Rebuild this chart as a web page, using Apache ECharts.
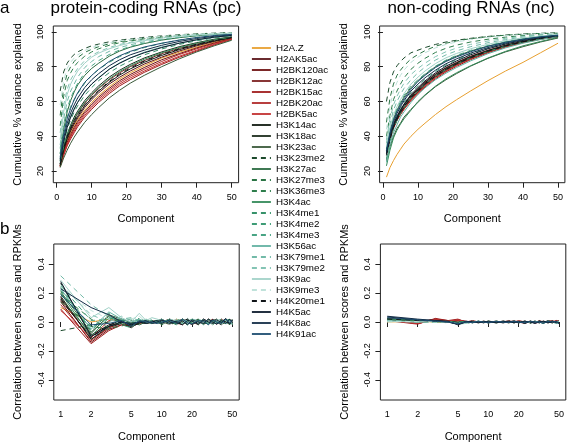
<!DOCTYPE html>
<html><head><meta charset="utf-8">
<script src="https://cdn.jsdelivr.net/npm/echarts@6/dist/echarts.min.js"></script>
<style>html,body{margin:0;padding:0;background:#fff}#c{width:567px;height:443px}</style>
</head><body><div id="c"></div>
<script>
// ---------------- data ----------------
const marks = ['H2A.Z','H2AK5ac','H2BK120ac','H2BK12ac','H2BK15ac','H2BK20ac','H2BK5ac','H3K14ac','H3K18ac','H3K23ac','H3K23me2','H3K27ac','H3K27me3','H3K36me3','H3K4ac','H3K4me1','H3K4me2','H3K4me3','H3K56ac','H3K79me1','H3K79me2','H3K9ac','H3K9me3','H4K20me1','H4K5ac','H4K8ac','H4K91ac'];

const topComponents = [1,2,3,4,5,6,8,10,12,15,18,21,25,30,35,40,45,50];
const corrComponents = [1,2,3,4,5,6,7,8,9,10,12,14,16,18,20,23,26,29,32,35,39,43,47,50];

const compTicks = [0,10,20,30,40,50];
const cumTicks = [20,40,60,80,100];
const logTicks = [1,2,5,10,20,50];
const corrTicks = [-0.4,-0.2,0,0.2,0.4];

// cumulative % variance explained, protein-coding
const pcCumulative = [
 [23,31,37.5,42,46,49.5,55,59.5,63.5,68.5,73,76.5,80.5,85,88.3,91.3,94,96.3],
 [23.5,32,38,43,47,50.5,56.5,61,65,70,74,77.5,81.5,85.5,89,92,94.5,96.6],
 [23,30.5,36.5,41,45,48.5,54,58.5,62.5,67.5,72,75.5,79.5,84,87.5,90.8,93.6,96.2],
 [24,33,40,45,49.5,53,59,63.5,67.5,72.5,76.5,80,83.5,87.5,90.5,93,95.3,97],
 [22.5,29,34.5,38.5,42,45.5,51,55.5,59.5,64.5,69,72.5,76.7,81.3,85.4,89,92.5,95.7],
 [23,30,35.5,40,44,47.5,53,57.5,61.5,66.5,71,74.5,78.5,83,87,90.3,93.3,96],
 [22.5,29.5,35,39.5,43,46.5,52,56.5,60.5,65.5,70,73.5,77.5,82,86,89.5,92.8,95.8],
 [23,32,39,44,48,51.5,57.5,62,66,71,75.2,78.7,82.5,86.5,89.8,92.5,94.8,96.8],
 [24,34,41,46.5,51,54.5,60.5,65,69,74,78,81.3,85,88.5,91.5,93.8,95.8,97.2],
 [22,27.5,32,36,39.5,42.5,48,52.5,56.5,62,66.5,70.5,75,80,84.5,88.5,92,95.2],
 [66,77,82,85,87,88.5,90.5,92,93,94.3,95.3,96,96.9,97.7,98.4,98.9,99.3,99.6],
 [30,44,54,60.5,65.5,69.5,75,79,82,86,89,91.2,93.3,95.3,96.7,97.8,98.6,99.1],
 [52,68,76,80,83,85.2,88.2,90,91.5,93.2,94.4,95.3,96.3,97.3,98.1,98.7,99.1,99.4],
 [46,63,72,76.5,80,82.5,86,88.5,90.3,92.3,93.8,94.8,96,97,97.9,98.5,99,99.3],
 [25,34,41,46,50,53.5,59.5,64,68,73,77.2,80.5,84.3,88,91,93.5,95.5,97],
 [26,36,44,49.5,54,57.5,63.5,68,72,76.5,80.3,83.3,86.8,90.2,92.8,94.9,96.5,97.8],
 [30,42,51,57,61,64.5,70.5,75,78.5,82.5,85.8,88.3,91,93.4,95.3,96.8,97.8,98.5],
 [33,47,56,62,66.5,70.5,76.5,80.5,83.5,87,89.6,91.6,93.6,95.5,96.8,97.8,98.5,98.9],
 [27,38,46,51.5,56,59.5,65.5,70,73.8,78.5,82.2,85,88.3,91.3,93.5,95.3,96.8,97.9],
 [35,50,60,66,70,74,79.5,83,85.8,88.8,91,92.6,94.3,95.9,97.1,98,98.6,99],
 [42,58,67,72.5,76,79,83.5,86.5,88.6,91,92.8,94,95.4,96.6,97.6,98.3,98.9,99.2],
 [38,54,64,70,74,77.5,82,85.5,87.8,90.3,92.2,93.6,95,96.4,97.5,98.2,98.8,99.1],
 [58,72,79,82.5,85,86.8,89.3,91,92.3,93.8,94.9,95.7,96.6,97.5,98.2,98.8,99.2,99.5],
 [24,33,40,45,49,52.5,58,62.5,66.5,71.5,75.8,79.2,83.2,87,90.2,92.9,95,96.8],
 [26,37,45,51,55.5,59.5,65.5,70,73.5,78.5,82,85,88,91,93.5,95.5,97,98],
 [27,39,47.5,53.5,58,62,68,72.5,76,80.5,84,86.8,89.5,92.3,94.5,96.2,97.5,98.3],
 [28,41,50,56,61,65,71,75,78.5,83,86.3,88.8,91.3,93.5,95.3,96.8,97.9,98.6]
];

// cumulative % variance explained, non-coding
const ncCumulative = [
 [16.5,22,26,29.5,32.5,35.5,40,44,47.5,52.5,57,61,66,72,77.5,82.5,88,93.5],
 [31,40,46,50.5,54,57,62.3,66.5,70.2,74.8,78.6,81.7,85.3,89,92,94.3,96.2,97.4],
 [30,39,45,49.5,53,56,61.3,65.5,69.3,74,77.8,81,84.6,88.5,91.6,94,95.9,97.2],
 [32,41,47,51.5,55,58,63.5,67.5,71.2,75.8,79.5,82.5,86,89.5,92.4,94.6,96.4,97.5],
 [30,38.5,44.5,49,52.5,55.5,60.5,64.5,68.3,73,77,80.2,84,88,91.3,93.8,95.8,97.1],
 [31,40,46,50.5,53.5,56.5,62,66,69.8,74.5,78.3,81.4,85,88.8,91.8,94.1,96,97.3],
 [30,39,45,49.5,52.5,55.5,61,65,68.8,73.6,77.5,80.8,84.5,88.4,91.5,93.9,95.9,97.2],
 [31,40.5,46.5,51,55,58,63.3,67,70.8,75.5,79.2,82.2,85.8,89.3,92.2,94.5,96.3,97.5],
 [30,39.5,45.5,50,53.5,56.5,62,66,69.8,74.5,78.3,81.5,85,88.8,91.9,94.2,96.1,97.4],
 [26,34,40,44.5,47.5,51,55.5,59.5,63.5,68.5,72.5,76,80.3,84.8,88.5,91.5,94.2,96.5],
 [60,71,77,80.5,83,85,88,89.5,91,92.8,94.2,95.2,96.3,97.4,98.2,98.8,99.2,99.5],
 [32,43,50,55,59,62.5,68,72,75.5,80,83.4,86.1,89,91.9,94.2,96,97.3,98.3],
 [48,62,70,75,78,80.5,84.5,87,89.2,91.8,93.5,94.8,96.1,97.3,98.1,98.7,99.1,99.3],
 [40,52,61,66,70,73.5,78.5,82,84.8,88.2,90.6,92.4,94.2,95.8,97,97.9,98.6,99],
 [23,32,39,43.5,47,50,55,60,63.8,68.8,73,76.5,80.5,85,88.8,92,94.5,96.8],
 [27,37,44,49,53,56.5,62,66,69.8,74.5,78.3,81.5,85,88.8,91.8,94.2,96.2,97.6],
 [30,40,47,52,56,59.5,65,69,72.7,77.3,81,84,87.3,90.6,93.2,95.4,96.9,98],
 [33,44,51,56,60,63.5,68.8,72.5,76,80.3,83.8,86.5,89.4,92.2,94.4,96.1,97.4,98.4],
 [25,35,42,46.5,51,54,59.5,64,67.8,72.5,76.3,79.5,83.3,87.5,90.8,93.5,95.6,97.4],
 [36,47,55,60,64,67.5,72.5,76.5,79.8,83.8,86.8,89.1,91.5,93.8,95.6,97,98,98.6],
 [38,50,58,63,67,70.5,75.5,79,82,85.8,88.6,90.7,92.8,94.8,96.3,97.5,98.3,98.8],
 [34,45,52,57,61,64.5,70,74,77.5,81.8,85.1,87.6,90.3,92.9,95,96.6,97.7,98.5],
 [44,57,66,71,75,78,82.5,85.5,88,90.8,92.8,94.2,95.6,96.9,97.8,98.5,99,99.2],
 [29,38,45,49.5,54,57,62.5,66.5,70.2,74.8,78.5,81.6,85.2,89,92,94.4,96.3,97.6],
 [30,40,46,51,55,58.5,64,68,71.8,76.5,80.3,83.3,86.8,90.3,93,95.1,96.7,97.8],
 [31,41,48,53,57,60.5,66,70,73.6,78,81.7,84.5,87.8,91,93.6,95.5,97,98],
 [32,42,49,54,58,61.5,67,71.5,75,79.5,83,85.6,88.6,91.7,94,95.8,97.2,98.1]
];

// correlation between scores and RPKMs, protein-coding
const pcCorrelation = [
 [0.10,0.00,0.02,0.00,-0.02,0.01,0.00,0.01,-0.01, 0.01,-0.01,0.02,0.00,-0.015,0.01,0.00,0.015,-0.01,0.005,0.01,-0.01,0.02,0.00,0.01],
 [0.17,-0.12,-0.04,-0.01,-0.03,0.00,0.01,-0.01,0.00, -0.01,0.015,-0.005,0.01,0.00,-0.02,0.01,-0.005,0.015,0.00,-0.01,0.02,-0.005,0.01,-0.01],
 [0.14,-0.14,-0.05,-0.02,-0.02,0.01,-0.01,0.00,0.01, 0.00,0.02,-0.01,-0.015,0.01,0.005,-0.01,0.02,0.00,-0.015,0.01,0.00,0.015,-0.01,0.005],
 [0.15,-0.10,-0.03,0.00,-0.01,0.00,0.01,0.00,-0.01, 0.015,-0.005,0.00,0.02,-0.01,0.00,0.015,-0.015,0.005,0.01,-0.005,0.015,-0.01,0.02,0.00],
 [0.09,-0.15,-0.06,-0.02,-0.03,-0.01,0.00,0.01,0.00, -0.005,0.00,0.015,-0.01,0.02,-0.005,-0.015,0.01,0.00,0.02,-0.01,0.005,0.01,-0.015,0.01],
 [0.12,-0.13,-0.04,0.00,-0.02,0.00,-0.01,0.01,0.00, 0.005,-0.015,0.01,0.005,-0.005,0.015,0.00,-0.01,0.02,-0.005,0.015,-0.01,0.00,0.01,-0.005],
 [0.08,-0.11,0.01,0.02,0.00,-0.01,0.00,-0.01,0.01, -0.01,0.01,0.00,-0.02,0.015,0.00,0.01,-0.01,0.005,0.015,-0.015,0.01,0.005,-0.005,0.02],
 [0.27,-0.09,-0.02,0.01,-0.02,0.00,-0.01,0.00,0.01, 0.02,-0.01,0.005,0.01,-0.015,0.02,-0.005,0.00,-0.01,0.015,0.00,-0.02,0.01,0.005,-0.01],
 [0.18,-0.12,-0.03,-0.01,-0.04,0.00,0.00,0.01,-0.01, 0.00,0.01,-0.015,0.02,0.005,-0.01,0.01,0.00,-0.005,0.01,0.02,-0.01,-0.005,0.015,0.00],
 [0.16,-0.08,0.05,0.02,-0.01,0.00,0.01,-0.01,0.00, -0.015,0.005,0.01,-0.005,0.00,0.01,-0.02,0.015,0.005,-0.01,0.00,0.01,0.015,-0.01,0.005],
 [-0.06,-0.02,0.00,0.02,-0.02,0.00,0.01,-0.01,0.00, 0.01,-0.02,0.00,0.015,-0.01,0.005,0.02,-0.015,0.00,0.01,-0.01,0.005,-0.02,0.01,0.00],
 [0.21,-0.07,0.04,0.01,0.00,-0.02,0.00,0.01,-0.01, 0.005,0.015,-0.01,0.00,0.02,-0.015,0.005,0.01,-0.01,0.00,0.015,-0.005,0.01,-0.02,0.01],
 [0.14,-0.03,-0.05,0.02,-0.02,0.02,-0.01,0.00,0.01, -0.02,0.00,0.01,0.015,-0.01,0.005,0.00,-0.015,0.02,0.005,-0.01,0.015,0.00,0.01,-0.015],
 [0.19,0.02,-0.04,-0.03,0.01,0.00,0.02,-0.01,0.00, 0.01,0.005,-0.02,0.01,0.00,0.015,-0.01,0.005,0.01,-0.02,0.005,0.00,0.02,-0.005,0.01],
 [0.20,-0.10,0.03,0.00,-0.01,0.01,0.00,-0.01,0.01, -0.005,0.02,0.00,-0.01,0.01,-0.005,0.015,0.00,-0.015,0.01,0.005,-0.01,0.01,0.02,-0.01],
 [0.22,-0.06,0.06,-0.01,-0.03,0.03,0.00,0.01,-0.01, 0.02,-0.005,0.01,-0.015,0.005,0.02,-0.01,0.01,0.00,-0.01,0.02,0.005,-0.015,0.00,0.015],
 [0.24,-0.04,0.03,0.01,0.02,-0.01,0.01,0.00,0.01, 0.00,-0.01,0.02,0.005,-0.02,0.01,0.00,0.015,-0.01,0.005,0.00,0.02,-0.01,0.005,0.01],
 [0.25,0.01,0.02,-0.02,-0.04,0.01,-0.01,0.02,0.00, 0.015,0.00,-0.01,0.02,0.00,-0.015,0.01,-0.005,0.02,0.00,-0.02,0.01,0.005,-0.01,0.02],
 [0.23,-0.05,0.07,0.02,0.00,0.02,0.00,-0.01,0.01, -0.01,0.02,0.005,-0.01,0.015,0.00,-0.005,0.02,-0.015,0.01,0.00,-0.005,0.015,0.01,-0.02],
 [0.32,0.12,0.04,0.02,0.03,0.01,-0.01,0.01,0.00, 0.02,-0.015,0.01,0.00,-0.005,0.02,0.01,-0.02,0.005,0.015,-0.01,0.00,0.02,-0.01,0.005],
 [0.26,0.05,0.00,0.04,0.01,0.00,0.02,0.00,-0.01, 0.005,0.01,-0.02,0.015,0.00,-0.01,0.02,0.005,-0.005,-0.015,0.01,0.02,-0.01,0.00,0.015],
 [0.29,0.03,0.10,0.03,0.00,0.06,0.01,0.03,0.02, 0.01,-0.005,0.02,-0.01,0.025,0.00,-0.01,0.015,0.005,-0.01,0.02,-0.015,0.01,0.00,0.02],
 [0.24,0.08,0.02,-0.01,0.02,0.04,0.00,0.01,-0.01, -0.015,0.02,0.00,0.01,-0.01,0.02,-0.005,0.00,0.015,-0.02,0.01,0.005,-0.005,0.02,-0.01],
 [0.16,-0.11,-0.02,0.00,-0.03,-0.01,0.00,0.01,-0.01, 0.01,0.00,-0.015,0.005,0.02,-0.01,0.00,0.01,-0.005,0.015,-0.015,0.01,0.00,-0.01,0.015],
 [0.28,-0.10,-0.03,0.00,-0.02,0.00,-0.01,0.00,0.01, -0.01,0.015,0.00,-0.02,0.01,0.005,-0.015,0.02,0.00,-0.01,0.015,-0.005,0.025,-0.015,0.01],
 [0.23,0.10,0.05,0.00,-0.01,0.00,0.01,-0.01,0.00, 0.015,-0.01,0.005,0.01,-0.02,0.015,0.00,-0.01,0.02,0.00,-0.015,0.01,-0.01,0.02,-0.005],
 [0.19,-0.02,-0.01,0.01,-0.03,0.01,0.00,0.00,-0.01, 0.00,0.01,-0.01,0.02,-0.005,-0.015,0.01,0.005,-0.02,0.015,0.00,-0.01,0.02,-0.005,0.01]
];

// correlation between scores and RPKMs, non-coding
const ncCorrelation = [
 [0.00,0.005,0.00,0.00,-0.005,0.00,0.00,0.00,0.00, 0.00,0.005,0.00,-0.005,0.00,0.005,0.00,-0.005,0.00,0.005,0.00,0.00,-0.005,0.005,0.00],
 [0.02,0.00,0.02,0.005,0.01,0.00,0.005,0.00,0.00, -0.005,0.00,0.005,0.00,0.01,-0.005,0.00,0.005,-0.01,0.00,0.005,0.00,-0.005,0.01,0.005],
 [0.015,-0.01,0.015,0.00,0.015,0.005,0.00,0.00,-0.005, 0.00,0.005,0.00,0.01,-0.005,0.00,0.005,0.00,-0.005,0.01,0.00,-0.005,0.005,0.00,0.01],
 [0.02,-0.005,0.02,0.01,0.00,0.00,0.005,0.00,0.00, 0.005,0.00,-0.005,0.00,0.005,0.00,-0.01,0.005,0.00,0.00,0.005,-0.005,0.00,0.005,0.00],
 [0.01,-0.015,0.025,0.01,0.02,0.00,0.01,0.00,0.00, 0.00,-0.005,0.00,0.005,0.00,0.01,0.00,-0.005,0.005,0.00,-0.005,0.005,0.01,0.00,-0.005],
 [0.015,-0.01,0.02,0.00,0.01,0.005,0.00,-0.005,0.00, 0.005,0.00,0.00,-0.005,0.005,0.00,0.005,0.00,-0.005,0.005,0.00,0.00,0.005,-0.005,0.005],
 [0.01,-0.01,0.015,0.005,0.015,0.00,0.005,0.00,0.005, 0.00,0.00,0.005,0.00,-0.005,0.00,0.00,0.005,0.00,-0.005,0.005,0.00,0.00,0.01,0.00],
 [0.025,0.01,0.01,0.00,-0.01,0.00,0.00,0.005,0.00, 0.00,0.005,-0.005,0.00,0.005,0.00,-0.005,0.00,0.005,0.00,-0.005,0.01,0.00,-0.005,0.00],
 [0.02,0.005,0.005,0.00,-0.005,-0.005,0.00,0.00,0.005, 0.00,0.00,0.005,0.00,0.00,-0.005,0.005,0.00,0.00,0.005,-0.005,0.00,0.005,0.00,0.00],
 [0.015,0.00,0.005,0.005,0.00,0.00,-0.005,0.00,0.00, 0.005,-0.005,0.00,0.005,0.00,0.00,-0.005,0.005,0.00,-0.005,0.00,0.005,0.00,-0.005,0.00],
 [0.01,0.005,0.00,0.00,0.005,-0.01,0.00,0.005,-0.005, 0.00,0.00,0.005,0.00,-0.005,0.005,0.00,-0.01,0.005,0.00,0.00,-0.005,0.005,0.00,-0.01],
 [0.02,0.01,0.005,0.00,-0.005,0.00,0.005,0.00,0.00, -0.005,0.005,0.00,0.00,0.005,-0.005,0.00,0.00,0.005,0.00,-0.005,0.00,0.005,0.00,0.00],
 [0.015,0.005,0.00,0.005,-0.01,-0.005,0.00,0.00,0.005, 0.00,-0.005,0.005,0.00,0.00,0.005,-0.005,0.00,0.005,0.00,0.00,-0.005,0.00,0.005,0.00],
 [0.01,0.00,0.005,-0.005,0.00,0.005,-0.005,0.00,0.00, 0.005,0.00,-0.005,0.005,0.00,0.00,0.005,-0.005,0.00,0.005,0.00,0.00,-0.005,0.00,0.005],
 [0.02,0.01,0.00,0.00,-0.01,0.00,0.00,0.005,-0.005, 0.005,0.00,0.00,-0.005,0.005,0.00,-0.005,0.005,0.00,0.00,-0.01,0.005,0.00,0.00,-0.005],
 [0.015,0.005,0.005,0.00,-0.005,0.005,-0.005,0.00,0.005, 0.00,0.00,0.005,0.00,-0.005,0.005,0.00,0.00,-0.005,0.005,0.00,-0.005,0.005,0.00,0.00],
 [0.02,0.005,0.00,0.005,-0.01,0.00,0.00,-0.005,0.00, 0.005,-0.005,0.00,0.005,0.00,-0.005,0.005,0.00,0.00,-0.005,0.005,0.00,0.00,0.005,-0.005],
 [0.015,0.00,0.00,-0.005,-0.005,0.00,0.005,0.00,-0.005, 0.00,0.005,0.00,0.00,-0.005,0.00,0.00,0.005,0.00,-0.005,0.00,0.005,-0.005,0.00,0.005],
 [0.01,0.00,0.005,0.00,-0.01,-0.005,0.00,0.005,0.00, -0.005,0.00,0.005,0.00,0.005,-0.005,0.00,-0.005,0.005,0.00,0.00,0.005,0.00,-0.01,-0.005],
 [0.005,0.00,0.00,0.005,-0.015,0.00,-0.005,0.00,0.005, 0.00,-0.005,0.00,0.005,0.00,0.00,-0.005,0.00,0.005,-0.005,0.00,0.00,0.005,0.00,0.00],
 [0.01,0.005,0.00,0.00,-0.01,-0.005,0.00,0.00,-0.005, 0.005,0.00,-0.005,0.00,0.005,0.00,0.00,-0.005,0.00,0.005,-0.005,0.00,0.00,0.005,-0.01],
 [0.005,0.00,0.005,0.00,-0.015,-0.01,0.00,-0.005,0.00, 0.00,0.005,0.00,-0.005,0.00,0.005,-0.005,0.00,0.00,-0.005,0.005,0.00,-0.005,0.00,-0.005],
 [0.00,0.005,0.00,0.00,-0.01,-0.005,0.005,0.00,0.00, -0.005,0.00,0.00,0.005,-0.005,0.00,0.00,0.005,-0.005,0.00,0.00,0.005,0.00,-0.005,0.00],
 [0.02,0.01,0.005,0.00,-0.015,0.00,0.005,0.00,0.00, -0.005,0.00,0.005,-0.005,0.00,0.005,0.00,-0.005,0.00,0.005,0.00,-0.005,0.005,0.00,-0.005],
 [0.035,0.015,0.01,0.005,-0.02,0.00,0.00,-0.005,0.005, 0.00,-0.005,0.005,0.00,-0.005,0.005,-0.01,0.005,0.00,-0.005,0.005,0.00,-0.005,0.005,-0.01],
 [0.04,0.02,0.01,0.00,-0.015,0.005,0.00,0.00,-0.005, 0.005,0.00,-0.005,0.005,0.00,-0.005,0.005,0.00,-0.01,0.005,0.00,-0.005,0.005,-0.005,-0.005],
 [0.03,0.015,0.005,0.00,-0.01,0.00,-0.005,0.005,0.00, -0.005,0.005,0.00,-0.005,0.005,0.00,-0.005,0.005,0.00,0.00,-0.01,0.005,0.00,0.005,-0.01]
];

// ---------------- styles ----------------
const lineColors = ['#E8A030','#5a1418','#6e1010','#7c2020','#a01c1c','#b02a2a','#c23030','#101a10','#1c2c1c','#3a5a3a',
 '#1c4a2c','#2a6a40','#2a7444','#2e7e4c','#338a58','#36926a','#3e9c76','#48a484','#62b2a2','#72baa8','#84c4b4','#a2d2c8','#bfe2da',
 '#101418','#0c1a2c','#122c46','#1c4c70'];
const isDashed = [0,0,0,0,0,0,0,0,0,0,1,0,1,1,0,1,1,1,0,1,1,0,1,1,0,0,0];

const FONT = '"Liberation Sans", Arial, Helvetica, sans-serif';
const grids = [
  {left:53.3, top:26, width:185.3, height:156.7},
  {left:379.6, top:26, width:185.3, height:156.7},
  {left:53.8, top:244, width:185.4, height:156},
  {left:380.4, top:244, width:185.4, height:156}
].map(g => Object.assign({show:true, borderColor:'#222', borderWidth:1, backgroundColor:'transparent', containLabel:false, outerBoundsMode:'none'}, g));

function tickStyle(vals){ return {show:true, inside:false, length:5, customValues:vals, lineStyle:{color:'#222', width:1}}; }
function xAxisFor(gi, log){
  const vals = log ? logTicks : compTicks;
  return {
    type: log ? 'log' : 'value', logBase:10, gridIndex:gi,
    min: log ? 0.855 : -0.96, max: log ? 58.5 : 51.96,
    axisLine:{show:false}, splitLine:{show:false}, minorTick:{show:false},
    axisTick: tickStyle(vals),
    axisLabel:{customValues:vals, margin:10, fontSize:9, color:'#000', fontFamily:FONT},
    name:'Component', nameLocation:'middle', nameGap:31,
    nameTextStyle:{fontSize:11, color:'#000', fontFamily:FONT}
  };
}
function yAxisFor(gi, corr){
  const vals = corr ? corrTicks : cumTicks;
  return {
    type:'value', gridIndex:gi,
    min: corr ? -0.54 : 13.3, max: corr ? 0.54 : 103.4,
    axisLine:{show:false}, splitLine:{show:false},
    axisTick: tickStyle(vals),
    axisLabel:{customValues:vals, rotate:90, margin:8, fontSize:9, color:'#000', fontFamily:FONT,
      formatter: v => corr ? Number(v).toFixed(1) : String(v)},
    name: corr ? 'Correlation between scores and RPKMs' : 'Cumulative % variance explained',
    nameLocation:'middle', nameGap:30, nameRotate:90,
    nameTextStyle:{fontSize:11, color:'#000', fontFamily:FONT}
  };
}

const panels = [
  {vals: pcCumulative, comps: topComponents},
  {vals: ncCumulative, comps: topComponents},
  {vals: pcCorrelation, comps: corrComponents},
  {vals: ncCorrelation, comps: corrComponents}
];
const series = [];
panels.forEach((p, pi) => {
  marks.forEach((m, i) => {
    series.push({
      type:'line', name:m, xAxisIndex:pi, yAxisIndex:pi,
      data: p.comps.map((c, j) => [c, p.vals[i][j]]),
      symbol:'none', showSymbol:false, silent:true, smooth:false,
      lineStyle:{color:lineColors[i], width:1, type: isDashed[i] ? [5,4] : 'solid'},
      itemStyle:{color:lineColors[i]},
      emphasis:{disabled:true}
    });
  });
});

const chart = echarts.init(document.getElementById('c'), null, {renderer:'canvas'});
chart.setOption({
  animation:false,
  backgroundColor:'#fff',
  textStyle:{fontFamily:FONT},
  grid: grids,
  xAxis: [xAxisFor(0,false), xAxisFor(1,false), xAxisFor(2,true), xAxisFor(3,true)],
  yAxis: [yAxisFor(0,false), yAxisFor(1,false), yAxisFor(2,true), yAxisFor(3,true)],
  legend: {
    orient:'vertical', left:251, top:43, padding:0, itemWidth:19, itemHeight:10, itemGap:1.0,
    selectedMode:false, data: marks,
    itemStyle:{opacity:0}, lineStyle:{width:1.8},
    textStyle:{fontSize:9.8, color:'#000', fontFamily:FONT}
  },
  graphic: [
    {type:'text', x:0, y:8.5, style:{text:'a', fontSize:17, fontFamily:FONT, fill:'#000', align:'left', verticalAlign:'middle'}},
    {type:'text', x:0, y:229.5, style:{text:'b', fontSize:17, fontFamily:FONT, fill:'#000', align:'left', verticalAlign:'middle'}},
    {type:'text', x:146, y:8.5, style:{text:'protein-coding RNAs (pc)', fontSize:17, fontFamily:FONT, fill:'#000', align:'center', verticalAlign:'middle'}},
    {type:'text', x:471, y:8.5, style:{text:'non-coding RNAs (nc)', fontSize:17, fontFamily:FONT, fill:'#000', align:'center', verticalAlign:'middle'}}
  ],
  series: series
});
</script></body></html>
